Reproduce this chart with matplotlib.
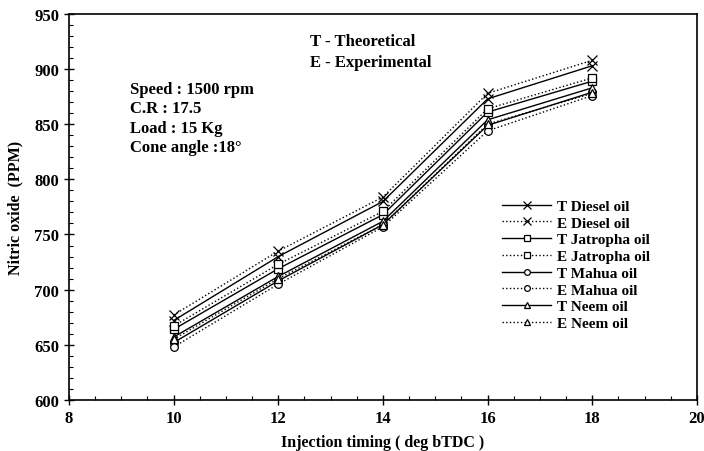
import matplotlib
matplotlib.use('Agg')
import matplotlib.pyplot as plt
from matplotlib.ticker import MultipleLocator

plt.rcParams['font.family'] = ['Liberation Serif', 'DejaVu Serif']
plt.rcParams['font.weight'] = 'bold'

timing = [10, 12, 14, 16, 18]

t_diesel = [672, 730, 780, 873, 903]
e_diesel = [677, 735, 784, 878, 908]
t_jatropha = [664, 719, 768, 861, 889]
e_jatropha = [667, 723, 771, 864, 892]
t_mahua = [652, 708, 759, 849, 879]
e_mahua = [648, 705, 757, 844, 876]
t_neem = [657, 712, 762, 854, 883]
e_neem = [655, 710, 759, 850, 878]

labels = ['T Diesel oil', 'E Diesel oil', 'T Jatropha oil', 'E Jatropha oil',
          'T Mahua oil', 'E Mahua oil', 'T Neem oil', 'E Neem oil']
series = [t_diesel, e_diesel, t_jatropha, e_jatropha, t_mahua, e_mahua, t_neem, e_neem]
markers = ['x', 'x', 's', 's', 'o', 'o', '^', '^']
styles = ['-', ':', '-', ':', '-', ':', '-', ':']
msizes = [7, 7, 6, 6, 5.5, 5.5, 6, 6]

fig = plt.figure(figsize=(7.04, 4.52), dpi=100)
ax = fig.add_axes([0.098, 0.113, 0.892, 0.854])

for y, lab, m, ls, ms in zip(series, labels, markers, styles, msizes):
    ax.plot(timing, y, color='black', linestyle=ls, linewidth=1.0,
            marker=m, markersize=ms, markerfacecolor='white',
            markeredgecolor='black', markeredgewidth=0.9, label=lab)

ax.set_xlim(8, 20)
ax.set_ylim(600, 950)
ax.xaxis.set_major_locator(MultipleLocator(2))
ax.xaxis.set_minor_locator(MultipleLocator(0.5))
ax.yaxis.set_major_locator(MultipleLocator(50))
ax.yaxis.set_minor_locator(MultipleLocator(10))
ax.tick_params(which='major', direction='inout', length=7, width=1, labelsize=12)
ax.tick_params(which='minor', direction='in', length=3, width=0.8)
for sp in ax.spines.values():
    sp.set_linewidth(1.2)

ax.set_xlabel('Injection timing ( deg bTDC )', fontsize=11.5, fontweight='bold', labelpad=6)
ax.set_ylabel('Nitric oxide  (PPM)', fontsize=11.5, fontweight='bold', labelpad=8)

ax.text(9.17, 882, 'Speed : 1500 rpm', fontsize=12, va='center')
ax.text(9.17, 865, 'C.R : 17.5', fontsize=12, va='center')
ax.text(9.17, 847, 'Load : 15 Kg', fontsize=12, va='center')
ax.text(9.17, 829, 'Cone angle :18°', fontsize=12, va='center')
ax.text(12.6, 925, 'T - Theoretical', fontsize=12, va='center')
ax.text(12.6, 906, 'E - Experimental', fontsize=12, va='center')

ax.legend(loc='upper left', bbox_to_anchor=(0.69, 0.52), frameon=False,
          fontsize=11, handlelength=3.2, handletextpad=0.35, labelspacing=0.2,
          markerscale=0.75, borderaxespad=0, borderpad=0)

fig.savefig('out.png', dpi=100)
